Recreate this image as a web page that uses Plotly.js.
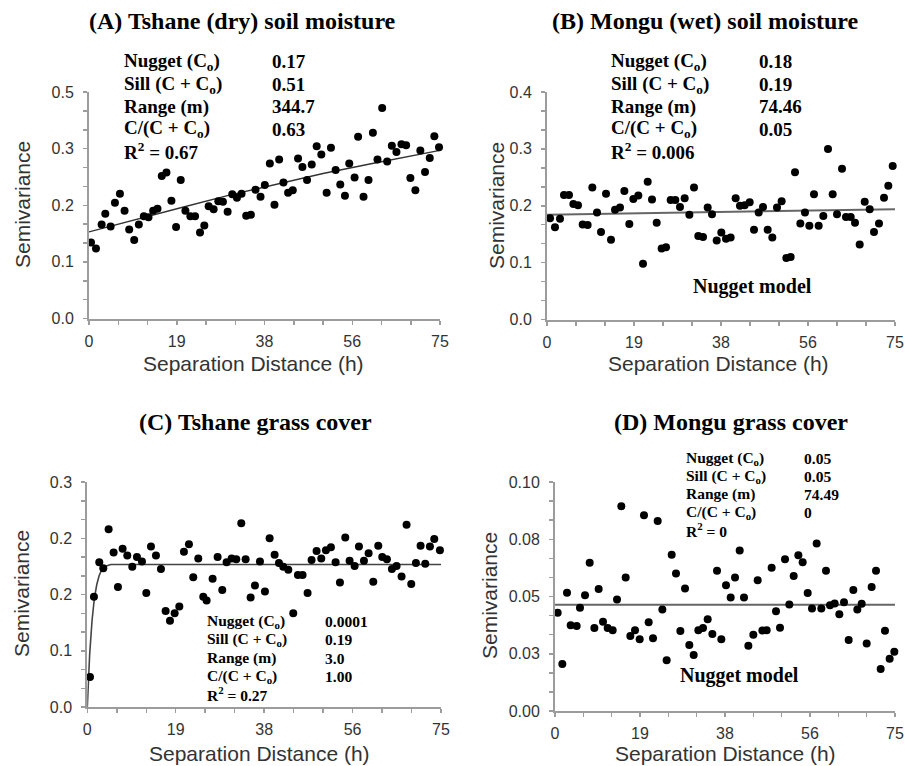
<!DOCTYPE html>
<html>
<head>
<meta charset="utf-8">
<script src="https://cdn.plot.ly/plotly-3.0.1.min.js"></script>
<style>html,body{margin:0;padding:0;background:#fff;}#chart{width:905px;height:766px;}</style>
</head>
<body>
<div id="chart"></div>
<script>
// ---------- data ----------
const xA = [0.43,1.49,2.70,3.48,4.62,5.54,6.61,7.60,8.59,9.66,10.65,11.72,12.71,13.71,14.63,15.55,16.55,17.61,18.61,19.60,20.60,21.66,22.66,23.72,24.64,25.57,26.63,27.63,28.62,29.62,30.61,31.61,32.60,33.59,34.59,35.58,36.65,37.57,38.64,39.63,40.63,41.55,42.54,43.54,44.67,45.60,46.59,47.59,48.65,49.64,50.78,51.70,52.70,53.69,54.69,55.61,56.75,57.50,58.66,59.72,60.66,61.64,62.64,63.71,64.71,65.69,66.76,67.76,68.67,69.74,70.80,71.80,72.81,73.79,74.79];
const yA = [0.151,0.139,0.187,0.208,0.183,0.230,0.248,0.214,0.177,0.156,0.187,0.203,0.201,0.214,0.218,0.283,0.290,0.234,0.182,0.275,0.214,0.203,0.203,0.171,0.185,0.223,0.217,0.233,0.232,0.212,0.247,0.240,0.248,0.204,0.206,0.256,0.242,0.265,0.308,0.226,0.316,0.270,0.250,0.255,0.318,0.301,0.275,0.306,0.342,0.326,0.250,0.339,0.295,0.266,0.244,0.308,0.280,0.361,0.242,0.275,0.369,0.316,0.418,0.312,0.343,0.331,0.346,0.344,0.279,0.255,0.334,0.291,0.319,0.362,0.340];
const fitAx = [0,10,20,30,40,50,60,75];
const fitAy = [0.172,0.197,0.221,0.245,0.267,0.288,0.307,0.334];

const xB = [0.65,1.72,2.80,3.66,4.74,5.68,6.68,7.69,8.76,9.77,10.78,11.64,12.72,13.79,14.66,15.73,16.67,17.74,18.61,19.68,20.69,21.70,22.63,23.64,24.71,25.65,26.65,27.66,28.66,29.67,30.68,31.68,32.61,33.62,34.63,35.56,36.57,37.57,38.58,39.58,40.66,41.59,42.60,43.68,44.61,45.62,46.55,47.56,48.56,49.57,50.57,51.58,52.51,53.45,54.60,55.60,56.54,57.54,58.55,59.55,60.56,61.57,62.50,63.58,64.44,65.45,66.38,67.39,68.47,69.55,70.47,71.55,72.63,73.56,74.50];
const yB = [0.178,0.162,0.177,0.219,0.219,0.203,0.201,0.167,0.166,0.232,0.188,0.154,0.221,0.140,0.193,0.197,0.226,0.168,0.212,0.218,0.098,0.242,0.211,0.170,0.125,0.127,0.210,0.210,0.198,0.213,0.184,0.232,0.147,0.145,0.197,0.185,0.139,0.153,0.142,0.144,0.213,0.200,0.201,0.206,0.158,0.188,0.198,0.158,0.144,0.197,0.208,0.108,0.110,0.259,0.169,0.188,0.165,0.220,0.165,0.182,0.300,0.220,0.185,0.265,0.180,0.180,0.170,0.132,0.207,0.194,0.154,0.169,0.214,0.235,0.270];
const fitBx = [0,30,60,75];
const fitBy = [0.184,0.188,0.1925,0.194];

const xC = [0.57,1.41,2.54,3.39,4.52,5.58,6.50,7.49,8.48,9.54,10.53,11.59,12.51,13.50,14.56,15.62,16.61,17.53,18.52,19.51,20.49,21.55,22.47,23.53,24.59,25.30,26.57,27.63,28.62,29.54,30.60,31.59,32.65,33.57,34.63,35.55,36.61,37.67,38.66,39.72,40.64,41.55,42.62,43.67,44.66,45.65,46.71,47.56,48.62,49.61,50.60,51.66,52.65,53.57,54.70,55.62,56.68,57.60,58.66,59.65,60.64,61.70,62.54,63.53,64.59,65.58,66.64,67.70,68.69,69.68,70.67,71.66,72.65,73.57,74.77];
const yC = [0.040,0.147,0.193,0.185,0.237,0.206,0.160,0.211,0.202,0.187,0.200,0.194,0.152,0.214,0.202,0.184,0.128,0.115,0.125,0.134,0.207,0.217,0.173,0.198,0.147,0.142,0.171,0.200,0.156,0.193,0.198,0.197,0.245,0.197,0.146,0.162,0.194,0.154,0.225,0.203,0.192,0.187,0.183,0.125,0.176,0.176,0.152,0.196,0.208,0.198,0.209,0.213,0.193,0.166,0.226,0.195,0.188,0.214,0.195,0.205,0.167,0.215,0.200,0.197,0.184,0.188,0.174,0.243,0.164,0.192,0.215,0.191,0.214,0.224,0.209];
const fitCx = [0,0.25,0.5,1,1.5,2,2.5,3,3.5,4,5,75];
const fitCy = [0.0,0.04,0.07,0.115,0.145,0.163,0.175,0.182,0.186,0.188,0.19,0.19];

const xD = [0.59,1.62,2.65,3.46,4.78,5.51,6.62,7.65,8.68,9.63,10.59,11.62,12.72,13.68,14.63,15.59,16.62,17.65,18.68,19.63,20.66,21.62,22.65,23.68,24.63,25.74,26.69,27.65,28.68,29.63,30.59,31.62,32.65,33.68,34.71,35.74,36.69,37.72,38.75,39.71,40.74,41.69,42.65,43.75,44.71,45.74,46.69,47.79,48.75,49.63,50.74,51.69,52.65,53.68,54.63,55.74,56.69,57.72,58.75,59.78,60.66,61.69,62.72,63.75,64.78,65.81,66.69,67.65,68.75,69.85,70.81,71.84,72.79,73.82,74.85];
const yD = [0.0429,0.0205,0.0516,0.0374,0.0371,0.0451,0.0506,0.0647,0.0362,0.0533,0.0390,0.0362,0.0353,0.0487,0.0894,0.0583,0.0328,0.0353,0.0313,0.0855,0.0388,0.0318,0.0830,0.0443,0.0222,0.0682,0.0600,0.0349,0.0535,0.0288,0.0244,0.0353,0.0362,0.0401,0.0336,0.0612,0.0313,0.0549,0.0496,0.0583,0.0701,0.0496,0.0285,0.0333,0.0571,0.0352,0.0353,0.0626,0.0436,0.0363,0.0663,0.0465,0.0589,0.0680,0.0650,0.0515,0.0448,0.0731,0.0448,0.0612,0.0462,0.0469,0.0422,0.0475,0.0310,0.0528,0.0443,0.0468,0.0295,0.0542,0.0612,0.0183,0.0350,0.0228,0.0259];
const fitDx = [0,75];
const fitDy = [0.0464,0.0464];

const xTickVals = [0,18.75,37.5,56.25,75];
const xTickText = ['0','19','38','56','75'];
const yTickValsA = [0,0.1125,0.225,0.3375,0.45];
const yTickTextA = ['0.0','0.1','0.2','0.3','0.5'];
const yTickValsB = [0,0.1,0.2,0.3,0.4];
const yTickTextB = ['0.0','0.1','0.2','0.3','0.4'];
const yTickValsC = [0,0.075,0.15,0.225,0.3];
const yTickTextC = ['0.0','0.1','0.2','0.2','0.3'];
const yTickValsD = [0,0.025,0.05,0.075,0.1];
const yTickTextD = ['0.00','0.03','0.05','0.08','0.10'];

const panelTitles = ['(A) Tshane (dry) soil moisture','(B) Mongu (wet) soil moisture','(C) Tshane grass cover','(D) Mongu grass cover'];
const statLabels = ['Nugget (C<sub>o</sub>)','Sill (C + C<sub>o</sub>)','Range (m)','C/(C + C<sub>o</sub>)'];
const r2Text = ['R<sup>2</sup> = 0.67','R<sup>2</sup> = 0.006','R<sup>2</sup> = 0.27','R<sup>2</sup> = 0'];
const statsA = ['0.17','0.51','344.7','0.63'];
const statsB = ['0.18','0.19','74.46','0.05'];
const statsC = ['0.0001','0.19','3.0','1.00'];
const statsD = ['0.05','0.05','74.49','0'];
const modelNote = 'Nugget model';
const xTitle = 'Separation Distance (h)';
const yTitle = 'Semivariance';

// ---------- layout helpers ----------
const W = 905, H = 766;
const px = v => v / W;
const py = v => 1 - v / H;

const axColor = '#9c9c9c';
const tickFont = {family: 'Liberation Sans, Arial, sans-serif', size: 16, color: '#333'};

function xAxis(left, right, anchor) {
  return {
    domain: [px(left), px(right)], anchor: anchor, range: [0, 75],
    tickmode: 'array', tickvals: xTickVals, ticktext: xTickText,
    showline: true, linecolor: axColor, linewidth: 2,
    ticks: 'outside', ticklen: 4, tickcolor: axColor, tickwidth: 1.5,
    minor: {tick0: 0, dtick: 6.25, ticks: 'outside', ticklen: 4, tickcolor: axColor, tickwidth: 1.5},
    showgrid: false, zeroline: false, tickfont: tickFont, ticklabelstandoff: 3, fixedrange: true
  };
}
function yAxis(top, bottom, anchor, vals, text) {
  const top_v = vals[vals.length - 1];
  return {
    domain: [py(bottom), py(top)], anchor: anchor, range: [0, top_v],
    tickmode: 'array', tickvals: vals, ticktext: text,
    showline: true, linecolor: axColor, linewidth: 2,
    ticks: 'outside', ticklen: 4, tickcolor: axColor, tickwidth: 1.5,
    minor: {tick0: 0, dtick: (vals[1] - vals[0]) / 3, ticks: 'outside', ticklen: 4, tickcolor: axColor, tickwidth: 1.5},
    showgrid: false, zeroline: false, tickfont: tickFont, ticklabelstandoff: 6, fixedrange: true
  };
}

function pts(x, y, xa, ya) {
  return {x: x, y: y, xaxis: xa, yaxis: ya, type: 'scatter', mode: 'markers',
    marker: {color: '#000', size: 8}, cliponaxis: false, hoverinfo: 'skip'};
}
function fit(x, y, xa, ya, color, width) {
  return {x: x, y: y, xaxis: xa, yaxis: ya, type: 'scatter', mode: 'lines',
    line: {color: color, width: width}, cliponaxis: false, hoverinfo: 'skip'};
}

const data = [
  fit(fitAx, fitAy, 'x', 'y', '#333', 1.4),
  pts(xA, yA, 'x', 'y'),
  fit(fitBx, fitBy, 'x2', 'y2', '#666', 2),
  pts(xB, yB, 'x2', 'y2'),
  fit(fitCx, fitCy, 'x3', 'y3', '#444', 1.6),
  pts(xC, yC, 'x3', 'y3'),
  fit(fitDx, fitDy, 'x4', 'y4', '#666', 2),
  pts(xD, yD, 'x4', 'y4')
];

const annotations = [];
function txt(text, x, y, size, family, anchor, color, angle) {
  const a = {text: text, xref: 'paper', yref: 'paper', x: px(x), y: py(y),
    xanchor: anchor || 'center', yanchor: 'middle', showarrow: false,
    font: {family: family, size: size, color: color || '#000'}};
  if (angle) a.textangle = angle;
  annotations.push(a);
}
const serif = 'Liberation Serif, Times New Roman, serif';
const sans = 'Liberation Sans, Arial, sans-serif';

// panel titles
txt('<b>' + panelTitles[0] + '</b>', 242, 21, 24, serif);
txt('<b>' + panelTitles[1] + '</b>', 705, 21, 24, serif);
txt('<b>' + panelTitles[2] + '</b>', 255, 422, 24, serif);
txt('<b>' + panelTitles[3] + '</b>', 731, 422, 24, serif);

// stats blocks
function statsBlock(vals, r2, lx, vx, rows, size) {
  for (let i = 0; i < 4; i++) {
    txt('<b>' + statLabels[i] + '</b>', lx, rows[i], size, serif, 'left');
    txt('<b>' + vals[i] + '</b>', vx, rows[i], size, serif, 'left');
  }
  txt('<b>' + r2 + '</b>', lx, rows[4], size, serif, 'left');
}
statsBlock(statsA, r2Text[0], 122, 270, [62, 84.5, 107, 129, 151], 19);
statsBlock(statsB, r2Text[1], 609, 757, [62, 84.5, 107, 129, 151], 19);
statsBlock(statsC, r2Text[2], 205, 323, [621, 639.5, 658, 676.5, 694], 15.5);
statsBlock(statsD, r2Text[3], 684, 802, [458, 476, 494, 512.5, 530], 15.5);

txt('<b>' + modelNote + '</b>', 752, 286, 20, serif);
txt('<b>' + modelNote + '</b>', 739, 675, 20, serif);

// axis titles
txt(yTitle, 22, 205, 21, sans, 'center', '#333', -90);
txt(yTitle, 496, 205, 21, sans, 'center', '#333', -90);
txt(yTitle, 21, 594, 21, sans, 'center', '#333', -90);
txt(yTitle, 489, 596, 21, sans, 'center', '#333', -90);
txt(xTitle, 254, 363, 21, sans, 'center', '#333');
txt(xTitle, 718, 363, 21, sans, 'center', '#333');
txt(xTitle, 259, 753, 21, sans, 'center', '#333');
txt(xTitle, 725, 753, 21, sans, 'center', '#333');

const layout = {
  width: W, height: H,
  margin: {l: 0, r: 0, t: 0, b: 0},
  paper_bgcolor: '#fff', plot_bgcolor: '#fff',
  showlegend: false,
  xaxis: xAxis(89, 440, 'y'),
  yaxis: yAxis(92, 318.5, 'x', yTickValsA, yTickTextA),
  xaxis2: xAxis(547, 895, 'y2'),
  yaxis2: yAxis(92, 319.5, 'x2', yTickValsB, yTickTextB),
  xaxis3: xAxis(87.3, 441, 'y3'),
  yaxis3: yAxis(482, 707, 'x3', yTickValsC, yTickTextC),
  xaxis4: xAxis(555, 895, 'y4'),
  yaxis4: yAxis(482, 711, 'x4', yTickValsD, yTickTextD),
  annotations: annotations
};

Plotly.newPlot('chart', data, layout, {displayModeBar: false, staticPlot: true});
</script>
</body>
</html>
